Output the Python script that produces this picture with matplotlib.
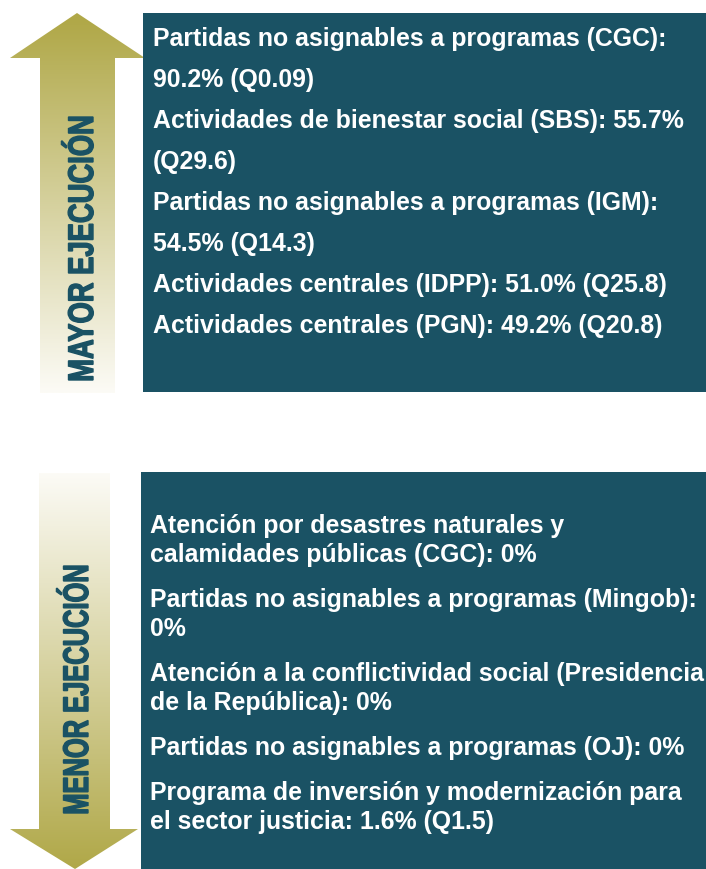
import numpy as np
import matplotlib
matplotlib.use('Agg')
import matplotlib.pyplot as plt
from matplotlib.patches import Rectangle, Polygon, PathPatch
from matplotlib.textpath import TextPath
from matplotlib.font_manager import FontProperties
from matplotlib.transforms import Affine2D

W, H = 706, 869

# textos del gráfico
top_title = "MAYOR EJECUCIÓN"
bottom_title = "MENOR EJECUCIÓN"

top_items = [
    "Partidas no asignables a programas (CGC):\n90.2% (Q0.09)",
    "Actividades de bienestar social (SBS): 55.7%\n(Q29.6)",
    "Partidas no asignables a programas (IGM):\n54.5% (Q14.3)",
    "Actividades centrales (IDPP): 51.0% (Q25.8)",
    "Actividades centrales (PGN): 49.2% (Q20.8)",
]
bottom_items = [
    "Atención por desastres naturales y\ncalamidades públicas (CGC): 0%",
    "Partidas no asignables a programas (Mingob):\n0%",
    "Atención a la conflictividad social (Presidencia\nde la República): 0%",
    "Partidas no asignables a programas (OJ): 0%",
    "Programa de inversión y modernización para\nel sector justicia: 1.6% (Q1.5)",
]

teal = '#1a5264'
olive = np.array([176, 168, 72]) / 255
pale = np.array([252, 251, 246]) / 255

fig = plt.figure(figsize=(W / 100, H / 100), dpi=100)
ax = fig.add_axes([0, 0, 1, 1])
ax.set_xlim(0, W)
ax.set_ylim(H, 0)
ax.axis('off')

# cajas
ax.add_patch(Rectangle((143, 13), W - 143, 392 - 13, color=teal, lw=0))
ax.add_patch(Rectangle((141, 472), W - 141, H - 472, color=teal, lw=0))


def gradient_arrow(pts, y_olive, y_pale):
    poly = Polygon(pts, closed=True, facecolor='none', edgecolor='none')
    ax.add_patch(poly)
    xs = [p[0] for p in pts]
    ys = [p[1] for p in pts]
    y0, y1 = min(ys), max(ys)
    yy = np.linspace(y0, y1, 300)
    t = np.clip((yy - y_olive) / (y_pale - y_olive), 0, 1)
    cols = olive[None, :] * (1 - t[:, None]) + pale[None, :] * t[:, None]
    img = cols[:, None, :]
    im = ax.imshow(img, extent=(min(xs), max(xs), y1, y0), origin='upper',
                   aspect='auto', interpolation='bilinear')
    im.set_clip_path(poly)


# flecha hacia arriba
gradient_arrow([(77, 13), (145, 58), (115, 58), (115, 393), (40, 393),
                (40, 58), (10, 58)], 20, 393)
# flecha hacia abajo
gradient_arrow([(39, 473), (110, 473), (110, 829), (138, 829), (75, 869),
                (10, 829), (39, 829)], 869, 473)
ax.set_xlim(0, W)
ax.set_ylim(H, 0)

fp_cond = FontProperties(family='Liberation Sans', weight='bold')


def vertical_title(s, x_base, y_start, y_end, cap):
    # texto condensado y girado 90 grados
    tp = TextPath((0, 0), s, size=1, prop=fp_cond)
    ext = tp.get_extents()
    cap_h = TextPath((0, 0), "MEN", size=1, prop=fp_cond).get_extents().y1
    sx = (y_start - y_end) / (ext.x1 - ext.x0)
    sy = cap / cap_h
    tr = Affine2D.from_values(0, -sx, -sy, 0, x_base, y_start + ext.x0 * sx)
    ax.add_patch(PathPatch(tr.transform_path(tp), facecolor=teal,
                           edgecolor=teal, lw=1.0))


vertical_title(top_title, 93, 380, 117, 24.5)
vertical_title(bottom_title, 88, 813, 566, 24.5)


def item_block(items, x, y_first, line_step, item_gap):
    y = y_first
    for k, item in enumerate(items):
        lines = item.split('\n')
        for j, line in enumerate(lines):
            ax.text(x, y, line, color='white', fontsize=17.9,
                    fontfamily='Liberation Sans', fontweight='bold',
                    va='baseline', ha='left')
            if j < len(lines) - 1:
                y += line_step
        y += item_gap


item_block(top_items, 153, 46, 41, 41)
item_block(bottom_items, 150, 533, 29, 45)

fig.savefig('out.png', dpi=100)
